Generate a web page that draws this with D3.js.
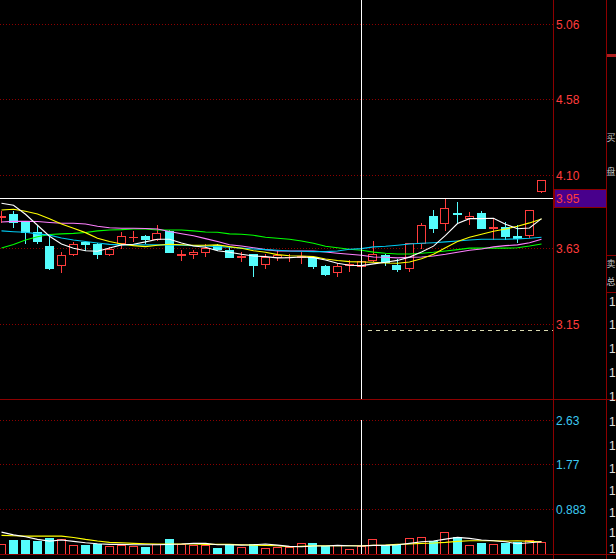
<!DOCTYPE html>
<html><head><meta charset="utf-8">
<script src="https://cdn.jsdelivr.net/npm/d3@7"></script>
<style>
html,body{margin:0;padding:0;background:#000;overflow:hidden}
svg{display:block}
text{font-family:"Liberation Sans",Arial,sans-serif;font-size:12px}
line,rect{shape-rendering:crispEdges}
</style></head><body>
<svg id="c" width="616" height="559"></svg>
<script>
// ---- data ----
const opens  = [3.836,3.853,3.802,3.740,3.649,3.528,3.596,3.673,3.660,3.596,3.666,3.703,3.713,3.694,3.745,3.590,3.600,3.613,3.656,3.624,3.576,3.596,3.533,3.581,3.576,3.579,3.581,3.524,3.486,3.525,3.524,3.560,3.592,3.528,3.507,3.670,3.842,3.794,3.861,3.826,3.857,3.762,3.772,3.715,3.719,4.001];
const closes = [3.840,3.804,3.740,3.681,3.511,3.592,3.660,3.663,3.596,3.628,3.713,3.708,3.694,3.734,3.613,3.595,3.613,3.635,3.630,3.581,3.583,3.528,3.581,3.589,3.579,3.583,3.524,3.469,3.524,3.532,3.554,3.596,3.549,3.503,3.666,3.783,3.766,3.889,3.853,3.840,3.766,3.770,3.715,3.702,3.879,4.070];
const highs  = [3.874,3.874,3.802,3.783,3.703,3.613,3.677,3.681,3.665,3.645,3.736,3.745,3.719,3.783,3.751,3.624,3.624,3.662,3.662,3.643,3.609,3.601,3.596,3.624,3.596,3.609,3.586,3.528,3.539,3.560,3.566,3.681,3.600,3.566,3.668,3.794,3.879,3.953,3.928,3.864,3.872,3.826,3.804,3.783,3.879,4.070];
const lows   = [3.800,3.772,3.668,3.668,3.503,3.486,3.592,3.624,3.575,3.592,3.635,3.681,3.666,3.687,3.611,3.560,3.571,3.587,3.624,3.579,3.555,3.460,3.511,3.560,3.554,3.539,3.511,3.464,3.458,3.490,3.515,3.554,3.528,3.490,3.490,3.635,3.736,3.751,3.800,3.787,3.764,3.694,3.694,3.677,3.708,3.991];
const ma5  = [3.921,3.908,3.851,3.781,3.711,3.662,3.635,3.619,3.615,3.636,3.656,3.660,3.675,3.692,3.692,3.668,3.649,3.641,3.619,3.609,3.596,3.585,3.581,3.573,3.575,3.579,3.575,3.560,3.539,3.526,3.524,3.535,3.545,3.557,3.578,3.611,3.648,3.716,3.792,3.823,3.823,3.826,3.788,3.759,3.764,3.823];
const ma10 = [3.878,3.883,3.870,3.853,3.823,3.789,3.762,3.734,3.698,3.677,3.662,3.651,3.645,3.654,3.660,3.657,3.654,3.654,3.656,3.645,3.635,3.619,3.609,3.594,3.587,3.585,3.581,3.566,3.556,3.549,3.547,3.545,3.541,3.539,3.547,3.568,3.596,3.638,3.678,3.705,3.724,3.743,3.757,3.775,3.796,3.821];
const ma20 = [3.802,3.806,3.806,3.805,3.799,3.794,3.794,3.789,3.775,3.765,3.762,3.762,3.760,3.757,3.741,3.727,3.714,3.696,3.677,3.657,3.649,3.638,3.626,3.617,3.617,3.617,3.617,3.611,3.603,3.596,3.590,3.579,3.577,3.573,3.577,3.579,3.585,3.596,3.609,3.622,3.630,3.643,3.651,3.656,3.670,3.692];
const ma30 = [3.745,3.740,3.736,3.726,3.718,3.700,3.687,3.678,3.668,3.659,3.656,3.656,3.656,3.656,3.656,3.654,3.651,3.649,3.645,3.641,3.635,3.630,3.626,3.622,3.617,3.615,3.613,3.613,3.617,3.628,3.632,3.643,3.647,3.654,3.662,3.666,3.670,3.675,3.681,3.687,3.692,3.692,3.692,3.694,3.698,3.705];
const ma60 = [3.636,3.659,3.687,3.708,3.722,3.726,3.729,3.735,3.745,3.751,3.753,3.757,3.757,3.751,3.751,3.751,3.745,3.738,3.736,3.726,3.724,3.717,3.705,3.698,3.692,3.681,3.666,3.647,3.638,3.628,3.622,3.610,3.603,3.598,3.598,3.603,3.609,3.617,3.626,3.635,3.635,3.635,3.635,3.638,3.649,3.662];
const volumes = [0.196,0.275,0.275,0.261,0.314,0.288,0.176,0.176,0.196,0.157,0.176,0.157,0.137,0.196,0.294,0.190,0.176,0.176,0.118,0.176,0.137,0.196,0.118,0.137,0.137,0.216,0.216,0.157,0.176,0.098,0.157,0.294,0.176,0.176,0.314,0.333,0.255,0.431,0.333,0.176,0.216,0.196,0.216,0.235,0.275,0.235];
const volMa5  = [0.431,0.378,0.339,0.288,0.255,0.275,0.249,0.222,0.202,0.190,0.190,0.182,0.182,0.182,0.190,0.196,0.210,0.210,0.182,0.182,0.176,0.182,0.196,0.176,0.151,0.143,0.157,0.157,0.171,0.163,0.157,0.171,0.171,0.182,0.210,0.241,0.255,0.294,0.327,0.308,0.275,0.261,0.241,0.202,0.222,0.241];
const volMa10 = [0.367,0.359,0.353,0.353,0.353,0.353,0.327,0.288,0.255,0.229,0.222,0.210,0.202,0.196,0.196,0.196,0.196,0.190,0.190,0.190,0.182,0.176,0.171,0.163,0.143,0.151,0.163,0.163,0.163,0.163,0.163,0.171,0.176,0.190,0.196,0.210,0.216,0.229,0.249,0.261,0.261,0.261,0.255,0.261,0.249,0.241];
const priceTicks = [5.06, 4.58, 4.10, 3.63, 3.15];
const volTicks = [2.63, 1.77, 0.883];
const volTickLabels = ["2.63", "1.77", "0.883"];
const crossPrice = 3.95;
const crossIndex = 30;
const costPrice = 3.108;          // dashed reference line
const sideChars = ["买", "盘", "卖", "总"];
const sideCharY = [138, 172, 264, 282];
const sideOnesY = [302, 325, 349, 373, 397, 422, 446, 469, 491, 513, 533, 549];

// ---- layout ----
const svg = d3.select("#c");
const W = 616, H = 559;
const plotRight = 553, axisRight = 606;
const priceBottom = 399, volBottom = 554, volTop = 420;
const RED = "#ff3c3c", CYAN = "#54fcfc", GRID = "#8c0000", FRAME = "#8c0000";

const n = closes.length;
const x = d3.scaleLinear().domain([0, n - 1]).range([1.5, 1.5 + 12 * (n - 1)]);
const step = x(1) - x(0);
const bodyW = step * 0.75;
const y = d3.scaleLinear().domain([3.15, 5.06]).range([324.3, 24.5]);
const yv = d3.scaleLinear().domain([0, 2.63]).range([volBottom, 420.7]);
const snap = v => Math.round(v - 0.5) + 0.5;
const px = v => Math.round(v);

svg.append("rect").attr("width", W).attr("height", H).attr("fill", "#000");

// grid lines
const grid = svg.append("g");
grid.selectAll("line.pg").data(priceTicks).join("line")
  .attr("x1", 0).attr("x2", plotRight)
  .attr("y1", d => snap(y(d))).attr("y2", d => snap(y(d)))
  .attr("stroke", GRID).attr("stroke-dasharray", "1,2");
grid.selectAll("line.vg").data(volTicks).join("line")
  .attr("x1", 0).attr("x2", plotRight)
  .attr("y1", d => snap(yv(d))).attr("y2", d => snap(yv(d)))
  .attr("stroke", GRID).attr("stroke-dasharray", "1,2");

// dashed cost line
svg.append("line").attr("x1", x(crossIndex) + 6).attr("x2", plotRight)
  .attr("y1", snap(y(costPrice))).attr("y2", snap(y(costPrice)))
  .attr("stroke", "#d8d8b0").attr("stroke-dasharray", "4,4");

// hollow box drawn as filled outer + black inner (pixel exact)
function hollow(g, x0, y0, w, h, col) {
  g.append("rect").attr("x", x0).attr("y", y0).attr("width", w).attr("height", h).attr("fill", col);
  if (w > 2 && h > 2)
    g.append("rect").attr("x", x0 + 1).attr("y", y0 + 1).attr("width", w - 2).attr("height", h - 2).attr("fill", "#000");
}

// candles
const cg = svg.append("g");
d3.range(n).forEach(i => {
  const cx = x(i);
  const left = Math.floor(cx - bodyW / 2);
  const o = opens[i], c = closes[i];
  const yO = y(o), yC = y(c), yH = px(y(highs[i])), yL = px(y(lows[i]));
  const top = px(Math.min(yO, yC)), bot = px(Math.max(yO, yC));
  const wickX = Math.floor(cx);
  if (c >= o) {
    cg.append("rect").attr("x", wickX).attr("y", yH).attr("width", 1).attr("height", Math.max(0, top - yH)).attr("fill", RED);
    cg.append("rect").attr("x", wickX).attr("y", bot).attr("width", 1).attr("height", Math.max(0, yL - bot + 1)).attr("fill", RED);
    hollow(cg, left, top, bodyW, Math.max(1, bot - top + 1), RED);
  } else {
    cg.append("rect").attr("x", wickX).attr("y", yH).attr("width", 1).attr("height", yL - yH + 1).attr("fill", CYAN);
    cg.append("rect").attr("x", left).attr("y", top).attr("width", bodyW).attr("height", Math.max(1, bot - top + 1)).attr("fill", CYAN);
  }
});

// moving averages
const line = d3.line().x((d, i) => x(i)).y(d => y(d));
const maDefs = [[ma60, "#00ff00"], [ma20, "#ff80ff"], [ma30, "#00c8f0"], [ma10, "#ffff00"], [ma5, "#ffffff"]];
maDefs.forEach(([arr, col]) => {
  svg.append("path").datum(arr).attr("d", line).attr("fill", "none").attr("stroke", col).attr("stroke-width", 1.1);
});

// volume bars
const vg = svg.append("g");
d3.range(n).forEach(i => {
  const left = Math.floor(x(i) - bodyW / 2);
  const up = closes[i] >= opens[i];
  const t = px(yv(volumes[i]));
  if (up) hollow(vg, left, t, bodyW, volBottom - t + 1, RED);
  else vg.append("rect").attr("x", left).attr("y", t).attr("width", bodyW).attr("height", volBottom - t + 1).attr("fill", CYAN);
});
const vline = d3.line().x((d, i) => x(i)).y(d => yv(d));
svg.append("path").datum(volMa10).attr("d", vline).attr("fill", "none").attr("stroke", "#ffff00").attr("stroke-width", 1.1);
svg.append("path").datum(volMa5).attr("d", vline).attr("fill", "none").attr("stroke", "#ffffff").attr("stroke-width", 1.1);

// frame
const fr = svg.append("g").attr("stroke", FRAME).attr("fill", "none");
fr.append("line").attr("x1", plotRight + 0.5).attr("x2", plotRight + 0.5).attr("y1", 0).attr("y2", H);
fr.append("line").attr("x1", axisRight + 0.5).attr("x2", axisRight + 0.5).attr("y1", 0).attr("y2", H);
fr.append("line").attr("x1", 0).attr("x2", W).attr("y1", priceBottom + 0.5).attr("y2", priceBottom + 0.5);
fr.append("line").attr("x1", 0).attr("x2", W).attr("y1", volBottom + 0.5).attr("y2", volBottom + 0.5);
fr.append("line").attr("x1", axisRight).attr("x2", W).attr("y1", 255.5).attr("y2", 255.5);
fr.append("line").attr("x1", axisRight).attr("x2", W).attr("y1", 292.5).attr("y2", 292.5);
svg.append("rect").attr("x", axisRight + 1).attr("y", 54).attr("width", W - axisRight - 1).attr("height", 3).attr("fill", "#b01e1e");

// axis labels
svg.selectAll("text.pt").data(priceTicks).join("text")
  .attr("x", 556).attr("y", d => y(d)).attr("dy", "0.36em")
  .attr("fill", RED).text(d => d.toFixed(2));
svg.selectAll("text.vt").data(volTicks).join("text")
  .attr("x", 556).attr("y", d => yv(d)).attr("dy", "0.36em")
  .attr("fill", "#3cc8f0").text((d, i) => volTickLabels[i]);

// side strip (narrow panel at the right edge)
svg.selectAll("text.sc").data(sideChars).join("text")
  .attr("x", 606.5).attr("y", (d, i) => sideCharY[i]).attr("dy", "0.36em")
  .attr("fill", "#c8c8c8").style("font-family", "'Noto Sans CJK SC'").style("font-size", "9px").text(d => d);
svg.selectAll("text.so").data(sideOnesY).join("text")
  .attr("x", 609).attr("y", d => d).attr("dy", "0.36em")
  .attr("fill", "#e0e0e0").style("font-size", "12px").text("1");

// crosshair
const cyp = snap(y(crossPrice));
svg.append("line").attr("x1", 0).attr("x2", plotRight).attr("y1", cyp).attr("y2", cyp).attr("stroke", "#fff");
svg.append("line").attr("x1", x(crossIndex)).attr("x2", x(crossIndex)).attr("y1", 0).attr("y2", priceBottom).attr("stroke", "#fff");
svg.append("line").attr("x1", x(crossIndex)).attr("x2", x(crossIndex)).attr("y1", volTop).attr("y2", volBottom).attr("stroke", "#fff");
svg.append("rect").attr("x", plotRight + 1).attr("y", cyp - 9).attr("width", axisRight - plotRight - 1).attr("height", 18)
  .attr("fill", "#48008c").attr("stroke", FRAME);
svg.append("text").attr("x", 556).attr("y", cyp).attr("dy", "0.36em").attr("fill", RED).text(crossPrice.toFixed(2));
</script>
</body></html>
